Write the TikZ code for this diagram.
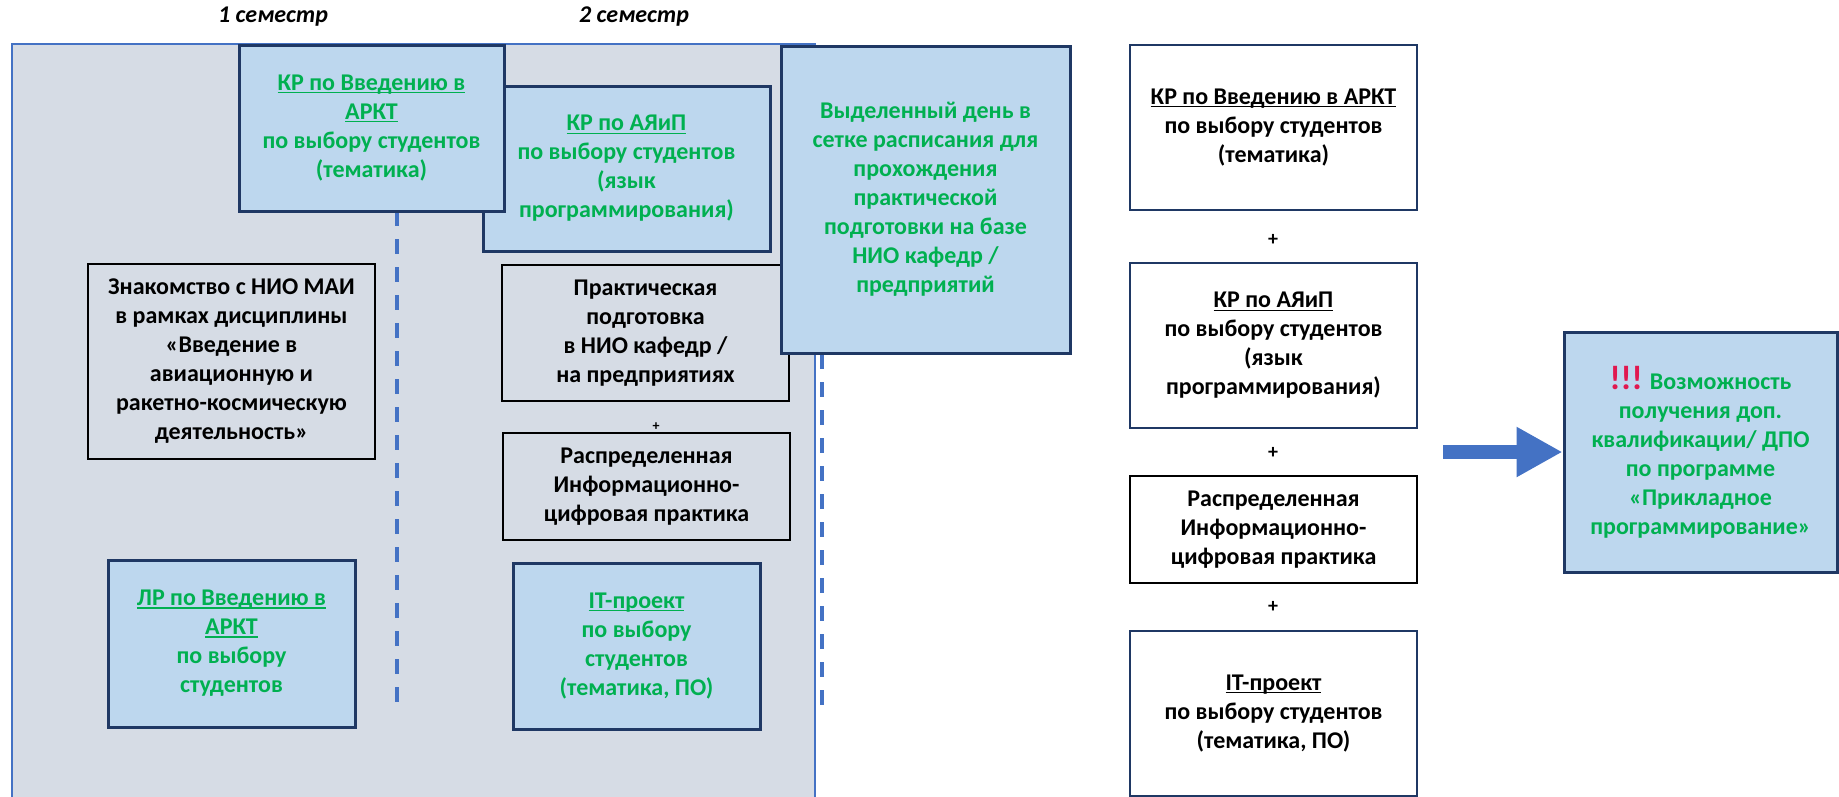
\documentclass[tikz,border=0pt]{standalone}
\usepackage{fontspec}
\setmainfont{Carlito}
\usetikzlibrary{arrows.meta}
\definecolor{bgfill}{HTML}{D6DCE5}
\definecolor{bgline}{HTML}{4472C4}
\definecolor{lblue}{HTML}{BDD7EE}
\definecolor{navy}{HTML}{1F3864}
\definecolor{tgreen}{HTML}{00B050}
\definecolor{tred}{HTML}{E0184F}
\newcommand\myul[1]{\setbox0\hbox{#1}\rlap{\rule[-3pt]{\wd0}{1.4pt}}\box0}
\tikzset{
  txt/.style={font=\fontsize{24}{29}\selectfont\bfseries, align=center, inner sep=0pt},
  bluebox/.style={txt, draw=navy, line width=3pt, fill=lblue, text=tgreen},
  graybox/.style={txt, draw=black, line width=2.5pt, text=black},
  whitebox/.style={txt, draw=navy, line width=1.2pt, fill=white, text=black},
  blackbox/.style={txt, draw=black, line width=2.5pt, fill=white, text=black},
  plussign/.style={font=\fontsize{20}{24}\selectfont\bfseries, inner sep=0pt},
  title/.style={font=\fontsize{24}{29}\selectfont\bfseries\itshape, inner sep=0pt},
  divider/.style={draw=bgline, line width=4pt, dash pattern=on 15pt off 13pt},
}
\begin{document}
\begin{tikzpicture}[x=1pt,y=-1pt]
\useasboundingbox (0,0) rectangle (1839,796);
% background panel
\fill[bgfill] (12,44) rectangle (815,797);
\draw[bgline, line width=2pt] (12,797) -- (12,44) -- (815,44) -- (815,797);
% titles
\node[title] (t1) at (273,17) {1 семестр};
\node[title] (t2) at (634,17) {2 семестр};
% dashed dividers
\coordinate (d1a) at (397,211);
\coordinate (d1b) at (397,703);
\draw[divider] (d1a) -- (d1b);
\coordinate (d2a) at (822,354);
\coordinate (d2b) at (822,710);
\draw[divider] (d2a) -- (d2b);
% left panel boxes
\node[bluebox, minimum width=287pt, minimum height=165pt] (kr2) at (626.5,168.5)
  {\myul{КР по АЯиП}\\по выбору студентов\\(язык\\программирования)};
\node[bluebox, minimum width=265pt, minimum height=166pt] (kr1) at (371.5,128)
  {\myul{КР по Введению в}\\\myul{АРКТ}\\по выбору студентов\\(тематика)};
\node[graybox, minimum width=287pt, minimum height=195pt] (zn) at (231.5,361.5)
  {Знакомство с НИО МАИ\\в рамках дисциплины\\«Введение в\\авиационную и\\ракетно-космическую\\деятельность»};
\node[graybox, minimum width=287pt, minimum height=136pt] (pr) at (645.5,333)
  {Практическая\\подготовка\\в НИО кафедр /\\на предприятиях};
\node[plussign, font=\fontsize{14}{16}\selectfont\bfseries] (p0) at (656,427) {+};
\node[graybox, minimum width=287pt, minimum height=107pt] (rs) at (646.5,486.5)
  {Распределенная\\Информационно-\\цифровая практика};
\node[bluebox, minimum width=247pt, minimum height=167pt] (lr) at (231.5,643.5)
  {\myul{ЛР по Введению в}\\\myul{АРКТ}\\по выбору\\студентов};
\node[bluebox, minimum width=247pt, minimum height=166pt] (it) at (636.5,646)
  {\myul{IT-проект}\\по выбору\\студентов\\(тематика, ПО)};
\node[bluebox, minimum width=289pt, minimum height=307pt] (vy) at (925.5,199.5)
  {Выделенный день в\\сетке расписания для\\прохождения\\практической\\подготовки на базе\\НИО кафедр /\\предприятий};
% right column
\node[whitebox, minimum width=287pt, minimum height=165pt] (r1) at (1273.5,127.5)
  {\myul{КР по Введению в АРКТ}\\по выбору студентов\\(тематика)};
\node[plussign] (p1) at (1273,240) {+};
\node[whitebox, minimum width=287pt, minimum height=165pt] (r2) at (1273.5,345.5)
  {\myul{КР по АЯиП}\\по выбору студентов\\(язык\\программирования)};
\node[plussign] (p2) at (1273,453) {+};
\node[blackbox, minimum width=287pt, minimum height=107pt] (r3) at (1273.5,529.5)
  {Распределенная\\Информационно-\\цифровая практика};
\node[plussign] (p3) at (1273,607) {+};
\node[whitebox, minimum width=287pt, minimum height=165pt] (r4) at (1273.5,713.5)
  {\myul{IT-проект}\\по выбору студентов\\(тематика, ПО)};
% result box
\node[bluebox, minimum width=273pt, minimum height=240pt] (dpo) at (1700.5,452)
  {{\color{tred}\fontsize{34}{29}\selectfont !!!} Возможность\\получения доп.\\квалификации/ ДПО\\по программе\\«Прикладное\\программирование»};
% block arrow
\coordinate (as) at (1443,452);
\draw[bgline, line width=14pt, -{Triangle[length=46pt, width=47pt]}] (as) -- (dpo.west);
\end{tikzpicture}
\end{document}
